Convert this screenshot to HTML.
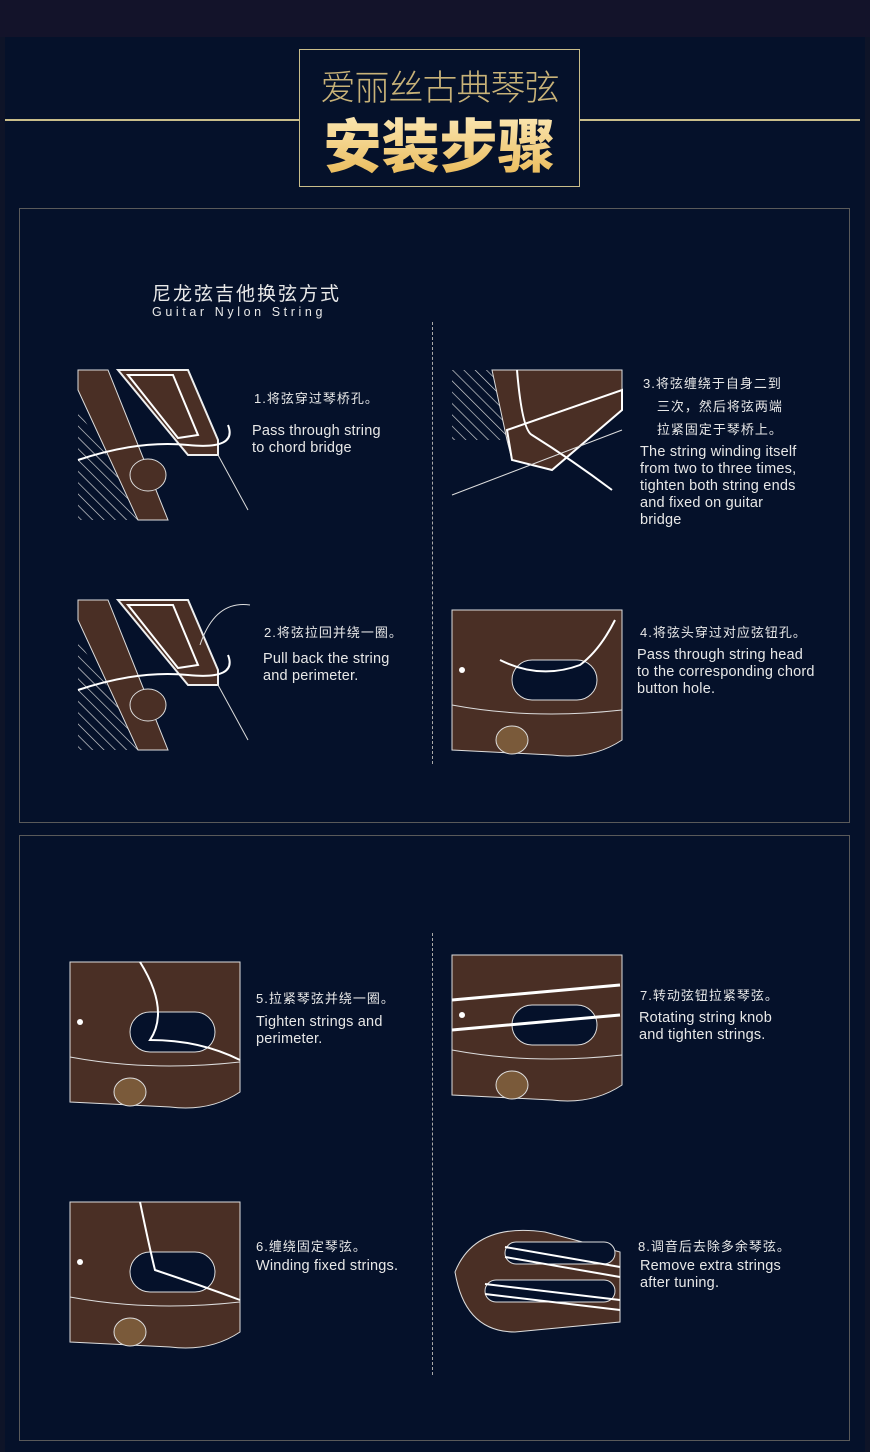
<!DOCTYPE html>
<html><head><meta charset="utf-8"><style>
*{margin:0;padding:0}
body{width:870px;height:1452px;background:#05112a;position:relative;overflow:hidden;font-family:"Liberation Sans","Noto Sans CJK SC",sans-serif;color:#e8e8e8}
.top{position:absolute;left:0;top:0;width:870px;height:37px;background:#13132a}
.a{position:absolute}
.cn{font-size:13px;letter-spacing:1px}
.en{font-size:14.5px;line-height:17px;letter-spacing:0.2px}
</style></head><body>
<div class="top"></div>
<div class="a" style="left:0;top:37px;width:5px;height:1415px;background:#0e1428"></div>
<div class="a" style="left:865px;top:37px;width:5px;height:1415px;background:#0e1428"></div>
<div class="a" style="left:5px;top:119px;width:294px;height:2px;background:#c9bd8a"></div>
<div class="a" style="left:579px;top:119px;width:281px;height:2px;background:#c9bd8a"></div>
<div class="a" style="left:299px;top:49px;width:279px;height:136px;border:1px solid #c9bd8a"></div>
<div class="a" style="left:299px;top:60px;width:281px;text-align:center;font-size:35px;color:#c8b278;font-weight:300;font-family:'Noto Sans CJK SC',sans-serif;letter-spacing:-1px">爱丽丝古典琴弦</div>
<div class="a" style="left:299px;top:100px;width:281px;text-align:center;font-size:58px;font-weight:900;color:#f2d48a;font-family:'Noto Sans CJK SC',sans-serif;background:linear-gradient(#fff1c8,#e8b650);-webkit-background-clip:text;-webkit-text-fill-color:transparent">安装步骤</div>
<div class="a" style="left:19px;top:208px;width:829px;height:613px;border:1px solid #5a5a5a"></div>
<div class="a" style="left:19px;top:835px;width:829px;height:604px;border:1px solid #5a5a5a"></div>
<div class="a" style="left:152px;top:279px;font-size:19px;letter-spacing:2px">尼龙弦吉他换弦方式</div>
<div class="a" style="left:152px;top:305px;font-size:12.5px;letter-spacing:3.6px">Guitar Nylon String</div>
<div class="a" style="left:432px;top:322px;height:442px;border-left:1px dashed #aaa"></div>
<div class="a" style="left:432px;top:933px;height:442px;border-left:1px dashed #aaa"></div>

<div class="a cn" style="left:254px;top:388px">1.将弦穿过琴桥孔。</div>
<div class="a en" style="left:252px;top:423px">Pass through string<br>to chord bridge</div>
<div class="a cn" style="left:643px;top:372px;line-height:23px">3.将弦缠绕于自身二到<br>&nbsp;&nbsp;&nbsp;三次，然后将弦两端<br>&nbsp;&nbsp;&nbsp;拉紧固定于琴桥上。</div>
<div class="a en" style="left:640px;top:444px">The string winding itself<br>from two to three times,<br>tighten both string ends<br>and fixed on guitar<br>bridge</div>
<div class="a cn" style="left:264px;top:622px">2.将弦拉回并绕一圈。</div>
<div class="a en" style="left:263px;top:651px">Pull back the string<br>and perimeter.</div>
<div class="a cn" style="left:640px;top:622px">4.将弦头穿过对应弦钮孔。</div>
<div class="a en" style="left:637px;top:647px">Pass through string head<br>to the corresponding chord<br>button hole.</div>
<div class="a cn" style="left:256px;top:988px">5.拉紧琴弦并绕一圈。</div>
<div class="a en" style="left:256px;top:1014px">Tighten strings and<br>perimeter.</div>
<div class="a cn" style="left:640px;top:985px">7.转动弦钮拉紧琴弦。</div>
<div class="a en" style="left:639px;top:1010px">Rotating string knob<br>and tighten strings.</div>
<div class="a cn" style="left:256px;top:1236px">6.缠绕固定琴弦。</div>
<div class="a en" style="left:256px;top:1258px">Winding fixed strings.</div>
<div class="a cn" style="left:638px;top:1236px">8.调音后去除多余琴弦。</div>
<div class="a en" style="left:640px;top:1258px">Remove extra strings<br>after tuning.</div>

<svg class="a" style="left:0;top:0" width="870" height="1452">
<defs>
<pattern id="h" width="8" height="8" patternUnits="userSpaceOnUse" patternTransform="rotate(-45)"><line x1="0" y1="0" x2="0" y2="8" stroke="#ddd" stroke-width="1.3"/></pattern>
<g id="bridge">
<polygon points="0,0 0,150 70,150 0,40" fill="url(#h)"/>
<polygon points="0,0 30,0 90,150 60,150 0,20" fill="#4a2f25" stroke="#ddd"/>
<polygon points="40,0 110,0 140,70 140,85 110,85" fill="#4a2f25" stroke="#eee" stroke-width="2"/>
<polygon points="50,5 95,5 120,65 100,68" fill="#4a2f25" stroke="#fff" stroke-width="2"/>
<ellipse cx="70" cy="105" rx="18" ry="16" fill="#4a2f25" stroke="#ddd"/>
<line x1="140" y1="85" x2="170" y2="140" stroke="#ddd"/>
<path d="M0,90 Q60,70 110,75 T150,55" fill="none" stroke="#fff" stroke-width="2"/>
</g>
<g id="head">
<path d="M0,0 H170 V130 Q140,150 100,145 L0,140 Z" fill="#4a2f25" stroke="#ddd"/>
<rect x="60" y="50" width="85" height="40" rx="20" fill="#05112a" stroke="#ddd"/>
<circle cx="10" cy="60" r="3" fill="#fff"/>
<ellipse cx="60" cy="130" rx="16" ry="14" fill="#7a5a3a" stroke="#ddd"/>
<path d="M0,95 Q80,110 170,100" fill="none" stroke="#ddd"/>
</g>
</defs>
<use href="#bridge" x="78" y="370"/>
<use href="#bridge" x="78" y="600"/>
<path d="M200,645 Q215,600 250,605" stroke="#ddd" fill="none"/>
<g transform="translate(452,370)">
<rect x="0" y="0" width="60" height="70" fill="url(#h)"/>
<polygon points="40,0 170,0 170,40 60,90 55,70" fill="#4a2f25" stroke="#ddd"/>
<polygon points="55,60 170,20 170,40 100,100 60,90" fill="#4a2f25" stroke="#fff" stroke-width="2"/>
<line x1="0" y1="125" x2="170" y2="60" stroke="#ddd"/>
<path d="M65,0 Q70,60 80,65 Q120,90 160,120" stroke="#fff" stroke-width="2" fill="none"/>
</g>
<use href="#head" x="452" y="610"/>
<path d="M500,660 Q540,680 580,665 Q600,650 615,620" stroke="#fff" stroke-width="2" fill="none"/>
<use href="#head" x="70" y="962"/>
<path d="M140,962 Q170,1010 150,1040 Q200,1040 240,1060" stroke="#fff" stroke-width="2" fill="none"/>
<use href="#head" x="70" y="1202"/>
<path d="M140,1202 Q150,1250 155,1270 Q200,1285 240,1300" stroke="#fff" stroke-width="2" fill="none"/>
<use href="#head" x="452" y="955"/>
<path d="M452,1000 L620,985 M452,1030 L620,1015" stroke="#fff" stroke-width="3"/>
<g transform="translate(455,1222)">
<path d="M0,50 Q20,0 90,10 L165,30 L165,100 L60,110 Q10,110 0,50Z" fill="#4a2f25" stroke="#ddd"/>
<rect x="50" y="20" width="110" height="22" rx="11" fill="#05112a" stroke="#ddd"/>
<rect x="30" y="58" width="130" height="22" rx="11" fill="#05112a" stroke="#ddd"/>
<path d="M50,25 L165,45 M50,35 L165,55 M30,62 L165,78 M30,72 L165,88" stroke="#fff" stroke-width="2"/>
</g>
</svg>
</body></html>
